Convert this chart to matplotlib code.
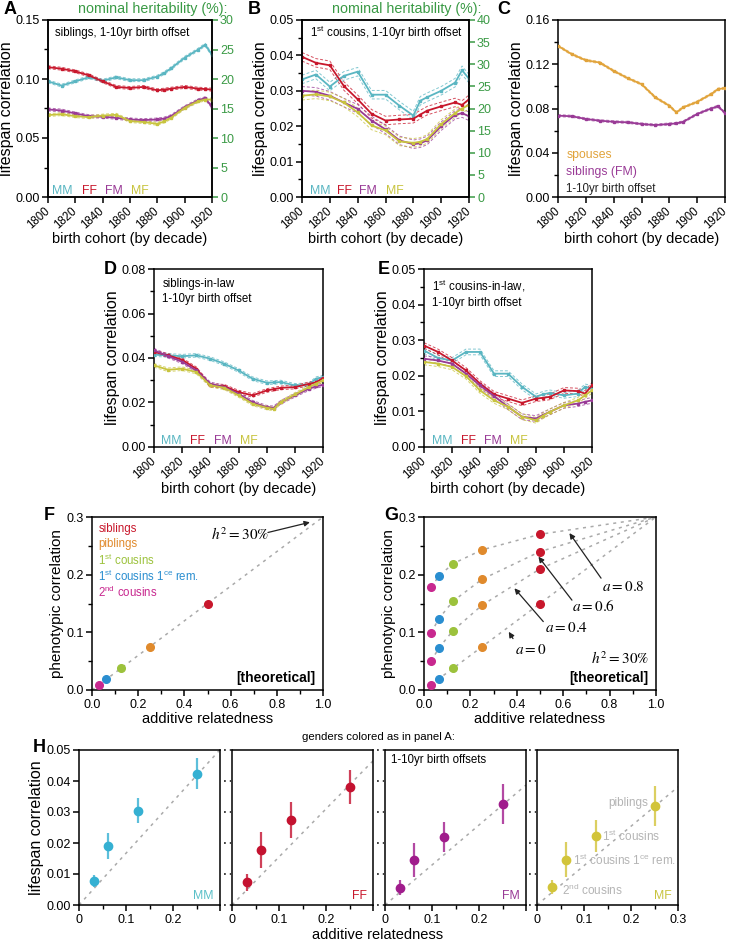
import numpy as np
import matplotlib
matplotlib.use("Agg")
import matplotlib.pyplot as plt
from matplotlib.ticker import MultipleLocator

plt.rcParams['font.family'] = ['Liberation Sans', 'DejaVu Sans']
plt.rcParams['mathtext.fontset'] = 'custom'
plt.rcParams['mathtext.rm'] = 'Liberation Sans'
plt.rcParams['mathtext.it'] = 'Liberation Sans:italic'
plt.rcParams['mathtext.default'] = 'rm'
plt.rcParams['axes.linewidth'] = 1.1
plt.rcParams['xtick.major.width'] = 1.1
plt.rcParams['ytick.major.width'] = 1.1
plt.rcParams['xtick.labelsize'] = 9
plt.rcParams['ytick.labelsize'] = 9
plt.rcParams['xtick.major.pad'] = 2
plt.rcParams['ytick.major.pad'] = 1.5

# ---------------- data ----------------
years = [1800, 1810, 1820, 1830, 1840, 1850, 1860, 1870, 1880, 1885, 1890, 1900, 1910, 1915, 1920]

# A: siblings
A_mm = [0.098, 0.0944, 0.098, 0.1015, 0.0986, 0.1014, 0.099, 0.099, 0.102, 0.105, 0.109, 0.118, 0.125, 0.129, 0.1205]
A_ff = [0.110, 0.1087, 0.1065, 0.103, 0.098, 0.0933, 0.0924, 0.0933, 0.0904, 0.091, 0.0918, 0.0933, 0.0918, 0.0915, 0.091]
A_fm = [0.0742, 0.0733, 0.0708, 0.0685, 0.068, 0.0671, 0.0657, 0.0652, 0.0657, 0.0665, 0.0685, 0.0761, 0.082, 0.0837, 0.0764]
A_mf = [0.0694, 0.0702, 0.0685, 0.0677, 0.069, 0.0697, 0.0643, 0.0635, 0.062, 0.064, 0.0671, 0.0756, 0.0812, 0.0826, 0.0826]
# B: 1st cousins
B_mm = [0.0332, 0.0346, 0.0312, 0.0342, 0.0354, 0.0289, 0.0289, 0.0258, 0.023, 0.0272, 0.0282, 0.030, 0.0323, 0.0358, 0.0334]
B_ff = [0.0396, 0.0379, 0.0372, 0.0314, 0.0276, 0.0235, 0.0216, 0.0219, 0.0221, 0.0233, 0.0244, 0.0256, 0.0267, 0.026, 0.0276]
B_fm = [0.030, 0.0297, 0.0286, 0.0267, 0.0249, 0.0216, 0.0191, 0.016, 0.0149, 0.0152, 0.016, 0.020, 0.0232, 0.0237, 0.0228]
B_mf = [0.0286, 0.029, 0.0284, 0.0267, 0.0239, 0.0202, 0.0188, 0.0157, 0.0153, 0.0156, 0.0164, 0.0206, 0.0237, 0.025, 0.026]
# C: spouses vs siblings (FM)
C_sp = [0.1366, 0.129, 0.1236, 0.1215, 0.114, 0.1075, 0.102, 0.090, 0.0825, 0.0765, 0.081, 0.086, 0.093, 0.0975, 0.0985]
C_fm = [0.0735, 0.073, 0.0705, 0.069, 0.068, 0.0675, 0.066, 0.065, 0.066, 0.0665, 0.068, 0.075, 0.080, 0.082, 0.076]
# D: siblings-in-law
D_mm = [0.0415, 0.0412, 0.0408, 0.0412, 0.0397, 0.0374, 0.0344, 0.0307, 0.0289, 0.029, 0.0292, 0.0277, 0.028, 0.0307, 0.0314]
D_ff = [0.0427, 0.0412, 0.0392, 0.0352, 0.0277, 0.0273, 0.0247, 0.0232, 0.0254, 0.026, 0.0266, 0.0269, 0.0284, 0.029, 0.0311]
D_fm = [0.0435, 0.0408, 0.0383, 0.0344, 0.0284, 0.0269, 0.0239, 0.0201, 0.0179, 0.0176, 0.0201, 0.0232, 0.0262, 0.0272, 0.028]
D_mf = [0.0367, 0.0347, 0.0352, 0.0337, 0.0277, 0.0266, 0.0232, 0.0194, 0.0176, 0.0171, 0.0201, 0.0236, 0.0269, 0.0285, 0.0299]
# E: 1st cousins-in-law
E_mm = [0.0271, 0.025, 0.0243, 0.0267, 0.0267, 0.0206, 0.0206, 0.0169, 0.0141, 0.0148, 0.0152, 0.0145, 0.015, 0.0169, 0.0164]
E_ff = [0.0285, 0.0267, 0.0243, 0.0215, 0.0178, 0.0148, 0.0136, 0.0124, 0.0136, 0.0138, 0.0141, 0.0159, 0.0157, 0.015, 0.0173]
E_fm = [0.0248, 0.0243, 0.0234, 0.0206, 0.0173, 0.0143, 0.0113, 0.0085, 0.008, 0.009, 0.0099, 0.0117, 0.0122, 0.0127, 0.0131]
E_mf = [0.0239, 0.0234, 0.0225, 0.0199, 0.0159, 0.0131, 0.0113, 0.0085, 0.0075, 0.0088, 0.0099, 0.0117, 0.0131, 0.0145, 0.0159]
# confidence band half-widths
ci_A, ci_B, ci_C, ci_D, ci_E = 0.0012, 0.0012, 0.0009, 0.0008, 0.0008

# F/G: theoretical
rel_names = ['siblings', 'piblings', '1$^{\\rm st}$ cousins', '1$^{\\rm st}$ cousins 1$^{\\rm ce}$ rem.', '2$^{\\rm nd}$ cousins']
rel = [0.5, 0.25, 0.125, 0.0625, 0.03125]
g_a0 = [0.15, 0.075, 0.0375, 0.019, 0.0095]
g_a04 = [0.21, 0.147, 0.103, 0.072, 0.050]
g_a06 = [0.24, 0.192, 0.154, 0.123, 0.099]
g_a08 = [0.27, 0.243, 0.219, 0.197, 0.178]
h2 = 0.3

# H: observed
h_rel = [0.03125, 0.0625, 0.125, 0.25]
h_mm = [0.0077, 0.019, 0.0304, 0.0424]
h_mm_lo = [0.0057, 0.0149, 0.0263, 0.0373]
h_mm_hi = [0.0096, 0.0231, 0.0345, 0.0474]
h_ff = [0.0073, 0.0178, 0.0274, 0.0381]
h_ff_lo = [0.0046, 0.0118, 0.0217, 0.0325]
h_ff_hi = [0.0100, 0.0237, 0.0331, 0.0435]
h_fm = [0.0056, 0.0145, 0.022, 0.0326]
h_fm_lo = [0.0032, 0.0091, 0.0171, 0.026]
h_fm_hi = [0.0081, 0.0199, 0.0269, 0.039]
h_mf = [0.0058, 0.0146, 0.0223, 0.032]
h_mf_lo = [0.0035, 0.0091, 0.0172, 0.0255]
h_mf_hi = [0.0081, 0.0202, 0.0273, 0.0384]
h_slope = [0.167, 0.155, 0.129, 0.127]

# colours
c_mm, c_ff, c_fm, c_mf = '#5ab6c2', '#c8172c', '#993a96', '#c8c43e'
c_sp = '#e1a33a'
green = '#3a9a45'
rel_cols = ['#c8172c', '#e08a2c', '#9cc23c', '#2a8ed0', '#c8288f']
hm_cols = ['#35b0d2', '#c41230', '#a01c8c', '#d2c43a']
gray = '#aaaaaa'

W, H = 733, 941
fig = plt.figure(figsize=(W / 100, H / 100), dpi=100)


def px_axes(l, t, r, b):
    return fig.add_axes([l / W, 1 - b / H, (r - l) / W, (b - t) / H])


def style_ticks(ax):
    ax.tick_params(which='major', length=4.3)
    ax.tick_params(which='minor', length=2.8, width=1.0)


def cohort(ax, series, ci, ytop, ystep):
    for vals, col in series:
        v = np.array(vals)
        ax.plot(years, v + ci, color=col, lw=0.7, ls=(0, (3, 2)), alpha=0.75)
        ax.plot(years, v - ci, color=col, lw=0.7, ls=(0, (3, 2)), alpha=0.75)
        ax.plot(years, v, color=col, lw=1.3, marker='s', ms=1.8, mfc=col, mec=col, zorder=3)
    ax.set_xlim(1800, 1920)
    ax.set_ylim(0, ytop)
    ax.set_xticks(range(1800, 1921, 20))
    ax.set_xticklabels([str(y) for y in range(1800, 1921, 20)], rotation=42, fontsize=8.3,
                       ha='right', va='center', rotation_mode='anchor')
    ax.tick_params(axis='x', pad=5)
    ax.yaxis.set_major_locator(MultipleLocator(ystep))
    ax.yaxis.set_minor_locator(MultipleLocator(ystep / 2))
    ax.yaxis.set_major_formatter('{x:.2f}')
    style_ticks(ax)
    ax.set_xlabel('birth cohort (by decade)', fontsize=10.5, labelpad=0)
    ax.set_ylabel('lifespan correlation', fontsize=11.5, labelpad=1)


def gender_legend(ax, xs):
    for x, lab, col in zip(xs, ['MM', 'FF', 'FM', 'MF'], [c_mm, c_ff, c_fm, c_mf]):
        ax.text(x, 0.036, lab, color=col, fontsize=8.8, transform=ax.transAxes, va='center')


def heritability_axis(ax, top, x_px):
    ax2 = ax.twinx()
    ax2.set_ylim(0, top)
    ax2.yaxis.set_major_locator(MultipleLocator(5))
    ax2.tick_params(colors=green, length=4.3, labelcolor=green)
    fig.text(x_px / W, 1 - 9 / H, 'nominal heritability (%):', color=green, fontsize=10.3,
             ha='right', va='center')


# ---- A ----
axA = px_axes(48, 20, 212, 197)
cohort(axA, list(zip([A_mm, A_ff, A_fm, A_mf], [c_mm, c_ff, c_fm, c_mf])), ci_A, 0.15, 0.05)
axA.text(0.045, 0.925, 'siblings, 1-10yr birth offset', transform=axA.transAxes, fontsize=8.3, va='center')
gender_legend(axA, [0.025, 0.205, 0.345, 0.505])
heritability_axis(axA, 30, 228)

# ---- B ----
axB = px_axes(302, 20, 469, 197)
cohort(axB, list(zip([B_mm, B_ff, B_fm, B_mf], [c_mm, c_ff, c_fm, c_mf])), ci_B, 0.05, 0.01)
axB.text(0.05, 0.925, '1$^{\\rm st}$ cousins, 1-10yr birth offset', transform=axB.transAxes, fontsize=8.3, va='center')
gender_legend(axB, [0.045, 0.21, 0.34, 0.505])
heritability_axis(axB, 40, 481)

# ---- C ----
axC = px_axes(558, 20, 725, 197)
cohort(axC, [(C_sp, c_sp), (C_fm, c_fm)], ci_C, 0.16, 0.04)
axC.text(0.05, 0.24, 'spouses', color=c_sp, fontsize=8.8, transform=axC.transAxes, va='center')
axC.text(0.05, 0.14, 'siblings (FM)', color=c_fm, fontsize=8.8, transform=axC.transAxes, va='center')
axC.text(0.05, 0.045, '1-10yr birth offset', color='#222222', fontsize=8.3, transform=axC.transAxes, va='center')

# ---- D ----
axD = px_axes(154, 269, 323, 447)
cohort(axD, list(zip([D_mm, D_ff, D_fm, D_mf], [c_mm, c_ff, c_fm, c_mf])), ci_D, 0.08, 0.02)
axD.text(0.05, 0.95, 'siblings-in-law\n1-10yr birth offset', transform=axD.transAxes, fontsize=8.3,
         va='top', linespacing=1.3)
gender_legend(axD, [0.04, 0.215, 0.355, 0.51])

# ---- E ----
axE = px_axes(424, 269, 592, 447)
cohort(axE, list(zip([E_mm, E_ff, E_fm, E_mf], [c_mm, c_ff, c_fm, c_mf])), ci_E, 0.05, 0.01)
axE.text(0.05, 0.95, '1$^{\\rm st}$ cousins-in-law,\n1-10yr birth offset', transform=axE.transAxes,
         fontsize=8.3, va='top', linespacing=1.3)
gender_legend(axE, [0.045, 0.218, 0.357, 0.512])


def theory_axes(ax):
    ax.set_xlim(0, 1)
    ax.set_ylim(0, 0.3)
    ax.xaxis.set_major_locator(MultipleLocator(0.2))
    ax.xaxis.set_minor_locator(MultipleLocator(0.1))
    ax.yaxis.set_major_locator(MultipleLocator(0.1))
    ax.yaxis.set_minor_locator(MultipleLocator(0.05))
    ax.xaxis.set_major_formatter('{x:.1f}')
    ax.yaxis.set_major_formatter('{x:.1f}')
    style_ticks(ax)
    ax.set_xlabel('additive relatedness', fontsize=10.5, labelpad=1)
    ax.set_ylabel('phenotypic correlation', fontsize=11, labelpad=2)
    ax.text(0.965, 0.07, '[theoretical]', transform=ax.transAxes, fontsize=10,
            fontweight='bold', ha='right', va='center')


def arrow(ax, tip, tail):
    ax.annotate('', xy=tip, xytext=tail,
                arrowprops=dict(arrowstyle='-|>', color='#222222', lw=0.9, mutation_scale=8))


# ---- F ----
axF = px_axes(92, 517, 323, 690)
theory_axes(axF)
axF.plot([0, 1], [0, h2], color=gray, lw=1.1, ls=(0, (2, 3)))
for r, c in zip(rel, rel_cols):
    axF.plot(r, h2 * r, 'o', color=c, ms=5.5, zorder=3)
for i, (name, c) in enumerate(zip(rel_names, rel_cols)):
    axF.text(0.027, 0.28 - 0.0275 * i, name, color=c, fontsize=8.3, va='center')
arrow(axF, (0.955, 0.292), (0.75, 0.272))
axF.text(0.64, 0.27, '$\\mathit{h}^2 = 30\\%$', math_fontfamily='stix', fontsize=11, ha='center', va='center')

# ---- G ----
axG = px_axes(424, 517, 656, 690)
theory_axes(axG)
for ys in [g_a0, g_a04, g_a06, g_a08]:
    axG.plot(rel[::-1] + [1.0], ys[::-1] + [h2], color=gray, lw=1.1, ls=(0, (2, 3)))
    for r, y, c in zip(rel, ys, rel_cols):
        axG.plot(r, y, 'o', color=c, ms=5.5, zorder=3)
g_labels = [('0.8', (0.62, 0.276), (0.77, 0.19), (0.86, 0.179)),
            ('0.6', (0.486, 0.235), (0.645, 0.152), (0.73, 0.144)),
            ('0.4', (0.382, 0.18), (0.522, 0.115), (0.615, 0.107)),
            ('0', (0.359, 0.105), (0.39, 0.085), (0.46, 0.069))]
for val, tip, tail, pos in g_labels:
    arrow(axG, tip, tail)
    axG.text(pos[0], pos[1], '$\\mathit{a} = ' + val + '$', math_fontfamily='stix', fontsize=11,
             ha='center', va='center')
axG.text(0.845, 0.055, '$\\mathit{h}^2 = 30\\%$', math_fontfamily='stix', fontsize=11, ha='center', va='center')

# ---- H ----
h_sets = [(h_mm, h_mm_lo, h_mm_hi, 'MM', '#5bc0c8'), (h_ff, h_ff_lo, h_ff_hi, 'FF', c_ff),
          (h_fm, h_fm_lo, h_fm_hi, 'FM', c_fm), (h_mf, h_mf_lo, h_mf_hi, 'MF', c_mf)]
h_lefts = [79, 232, 385, 537]
axesH = []
for k, (vals, lo, hi, lab, labcol) in enumerate(h_sets):
    ax = px_axes(h_lefts[k], 750, h_lefts[k] + 141, 905)
    axesH.append(ax)
    col = hm_cols[k]
    ax.plot([0, 0.3], [0, 0.3 * h_slope[k]], color=gray, lw=1.1, ls=(0, (2, 3)), zorder=1)
    ax.vlines(h_rel, lo, hi, color=col, lw=1.6, alpha=0.8, zorder=2)
    ax.plot(h_rel, vals, 'o', color=col, ms=6, zorder=3)
    ax.set_xlim(0, 0.3)
    ax.set_ylim(0, 0.05)
    ax.set_xticks([0, 0.1, 0.2, 0.3])
    ax.set_xticklabels(['0', '0.1', '0.2', '0.3' if k == 3 else ''])
    ax.xaxis.set_minor_locator(MultipleLocator(0.05))
    ax.yaxis.set_major_locator(MultipleLocator(0.01))
    style_ticks(ax)
    ax.text(0.955, 0.06, lab, color=labcol, fontsize=8.8, transform=ax.transAxes, ha='right', va='center')
    if k == 0:
        ax.yaxis.set_major_formatter('{x:.2f}')
        ax.set_ylabel('lifespan correlation', fontsize=11.5, labelpad=2)
    else:
        # dotted tick marks on the inner panels
        ax.tick_params(axis='y', length=0, labelleft=False)
        for yt in ax.get_yticks():
            if 0 <= yt <= 0.0501:
                ax.plot([-0.06, -0.005], [yt, yt], color='#333333', lw=1.3, ls=(0, (1, 2.2)),
                        transform=ax.get_yaxis_transform(), clip_on=False)
axesH[2].text(0.04, 0.935, '1-10yr birth offsets', transform=axesH[2].transAxes, fontsize=8.3, va='center')
h_notes = [('piblings', 0.237, 0.0328, 'right'), ('1$^{\\rm st}$ cousins', 0.138, 0.022, 'left'),
           ('1$^{\\rm st}$ cousins 1$^{\\rm ce}$ rem.', 0.077, 0.0145, 'left'),
           ('2$^{\\rm nd}$ cousins', 0.0525, 0.0046, 'left')]
for txt, x, y, ha in h_notes:
    axesH[3].text(x, y, txt, color='#b4b4b4', fontsize=8.5, ha=ha, va='center')
fig.text(378 / W, 1 - 737 / H, 'genders colored as in panel A:', fontsize=8.2, ha='center', va='center')
fig.text(378 / W, 1 - 935 / H, 'additive relatedness', fontsize=10.5, ha='center', va='center')

# panel letters
for lab, x, y in [('A', 4, 9), ('B', 248, 9), ('C', 497, 9), ('D', 104, 270), ('E', 378, 270),
                  ('F', 44, 515), ('G', 384, 515), ('H', 33, 748)]:
    fig.text(x / W, 1 - y / H, lab, fontsize=13, fontweight='bold', va='center')

fig.savefig('out.png', dpi=100)
